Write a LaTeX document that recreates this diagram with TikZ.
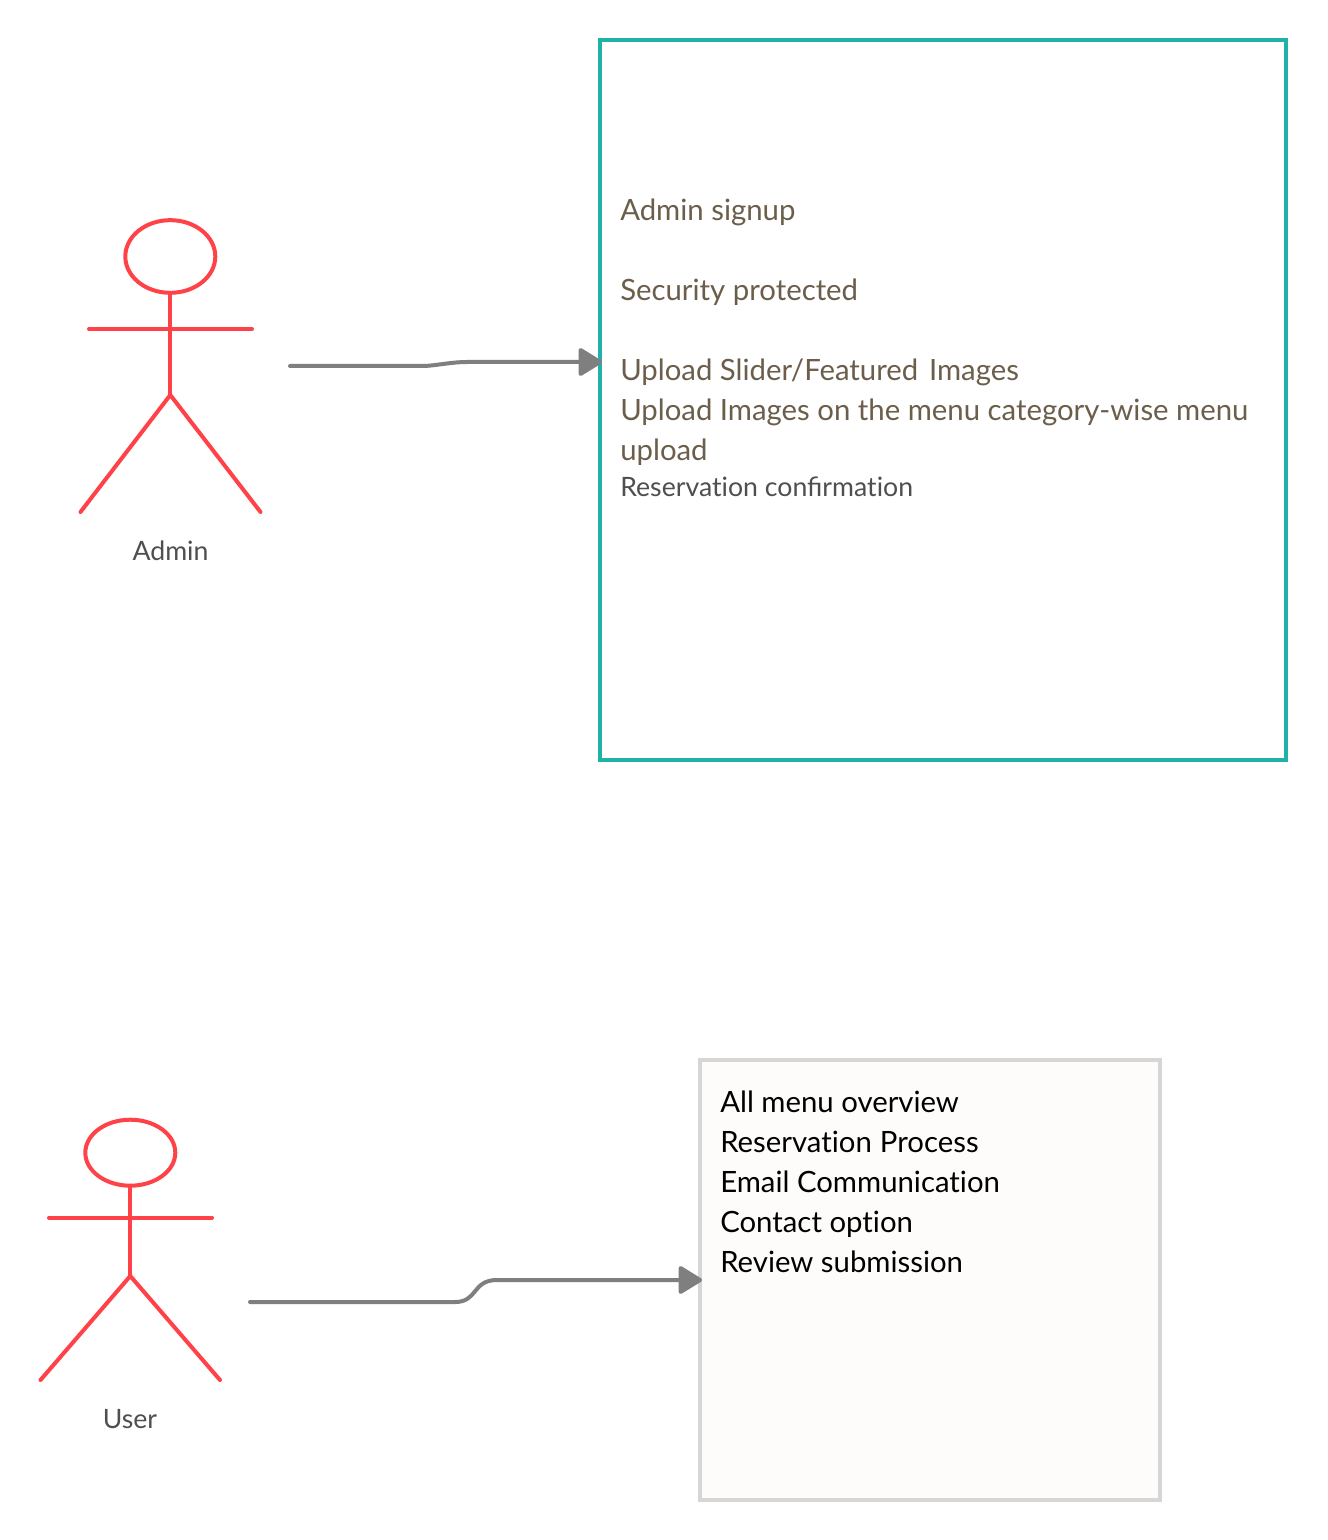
\documentclass[tikz,border=0pt]{standalone}
\usepackage{fontspec}
\setmainfont{Lato}
\usetikzlibrary{arrows.meta,shapes.geometric}
\definecolor{actorred}{HTML}{FF4248}
\definecolor{tealb}{HTML}{20B2AA}
\definecolor{boxgray}{HTML}{D6D6D6}
\definecolor{boxfill}{HTML}{FDFCFB}
\definecolor{linkgray}{HTML}{7F7F7F}
\definecolor{brownt}{HTML}{6B5E4B}
\definecolor{labelgray}{HTML}{4F4F4F}
\newcommand{\nolig}{\kern0pt }
\tikzset{
  x=0.75pt,y=-0.75pt,
  limb/.style={draw=actorred,line width=3pt,line cap=round,line join=round},
  head/.style={limb,ellipse,inner sep=0pt,minimum width=67.5pt,minimum height=54.5pt},
  actorlabel/.style={text=labelgray,font=\fontsize{20}{24}\selectfont,inner sep=0pt,anchor=base},
  boxtext/.style={inner sep=0pt,anchor=north west,align=left},
  link/.style={draw=linkgray,line width=3pt,line cap=round,shorten >=-3pt,-{Triangle[length=19pt,width=22.5pt,round]}},
}
\begin{document}
\begin{tikzpicture}
\useasboundingbox (0,0) rectangle (1327,1540);
\fill[white] (0,0) rectangle (1327,1540);
% admin actor
\node[head] (adminhead) at (170.3,256.5) {};
\coordinate (adminhip) at (170.3,395);
\coordinate (adminarmL) at (89,329);
\coordinate (adminarmR) at (252,329);
\coordinate (adminfootL) at (80.5,512);
\coordinate (adminfootR) at (260.5,512);
\coordinate (adminout) at (290,366);
\draw[limb] (adminhead.south) -- (adminhip);
\draw[limb] (adminarmL) -- (adminarmR);
\draw[limb] (adminfootL) -- (adminhip) -- (adminfootR);
\node[actorlabel] (adminlabel) at (170.5,560) {Admin};
% admin box
\node[draw=tealb,line width=3pt,minimum width=514.5pt,minimum height=540pt,inner sep=0pt] (adminbox) at (943,400) {};
\node[boxtext,text=brownt,font=\fontsize{22}{30}\selectfont] (admintext) at (620,198.5) {Admin signup\\[30pt]Security protected\\[30pt]Upload Slider/Featured\kern2.4pt{} Images\\Upload Images on the menu category-wise menu\\upload};
\node[text=labelgray,inner sep=0pt,anchor=base west,font=\fontsize{20}{24}\selectfont] (admintext2) at (620,496) {Reservat\nolig ion confirmat\nolig ion};
% user actor
\node[head,minimum height=49.5pt] (userhead) at (130.3,1152.7) {};
\coordinate (userhip) at (130.3,1276);
\coordinate (userarmL) at (49,1217.5);
\coordinate (userarmR) at (212,1217.5);
\coordinate (userfootL) at (40.5,1380);
\coordinate (userfootR) at (220,1380);
\coordinate (userout) at (250,1302);
\draw[limb] (userhead.south) -- (userhip);
\draw[limb] (userarmL) -- (userarmR);
\draw[limb] (userfootL) -- (userhip) -- (userfootR);
\node[actorlabel] (userlabel) at (130,1428) {User};
% user box
\node[draw=boxgray,fill=boxfill,line width=3pt,minimum width=345pt,minimum height=330pt,inner sep=0pt] (userbox) at (930,1280) {};
\node[boxtext,text=black,font=\fontsize{22}{30}\selectfont] (usertext) at (720,1090.5) {All menu overview\\Reservat\nolig ion\kern0.5pt{} Process\\Email Communicat\nolig ion\\Contact opt\nolig ion\\Review submission};
% connectors
\draw[link] (adminout) -- (425,366) .. controls (440,365) and (452,362) .. (467,362) -- (adminbox.west |- 0,362);
\draw[link] (userout) -- (455,1302) .. controls (478,1302) and (472,1280) .. (497,1280) -- (userbox.west |- 0,1280);
\end{tikzpicture}
\end{document}
